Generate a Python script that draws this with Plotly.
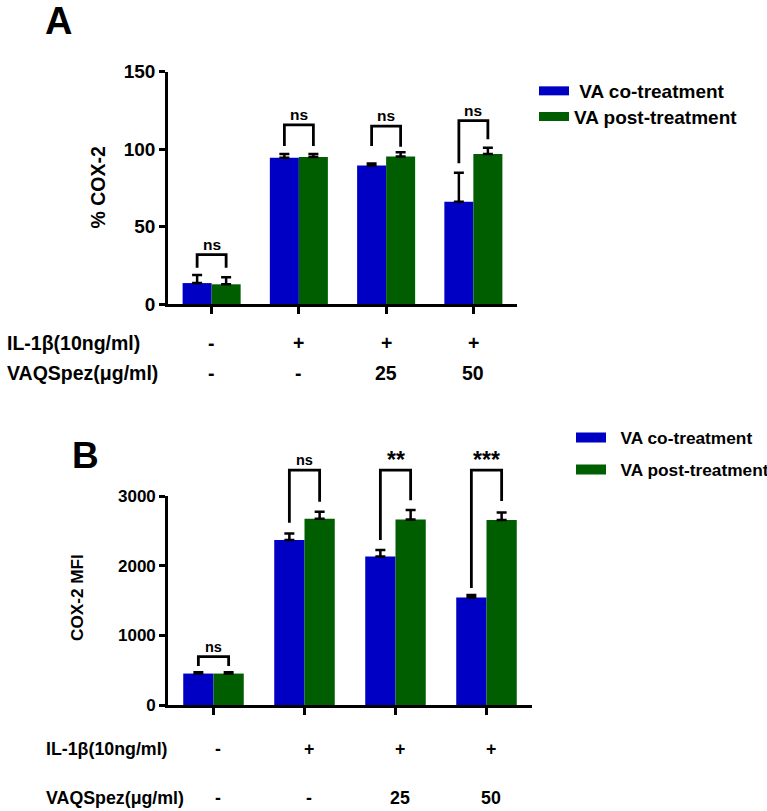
import plotly.graph_objects as go

# ---------------- data ----------------
groups = [0, 1, 2, 3]
il1b_row = ["-", "+", "+", "+"]
vaq_row = ["-", "-", "25", "50"]
series_names = ["VA co-treatment", "VA post-treatment"]

# Panel A: % COX-2
a_co = [13.5, 94.4, 89.3, 66.0]
a_co_err = [5.2, 2.4, 1.4, 18.7]
a_post = [12.7, 94.8, 95.1, 96.8]
a_post_err = [4.5, 2.0, 2.8, 4.0]
a_sig = ["ns", "ns", "ns", "ns"]
a_bracket_top = [31.8, 115.5, 114.8, 118.3]
a_leg_co = [23.4, 102.0, 102.0, 90.8]
a_leg_post = [23.4, 102.0, 101.5, 106.3]
a_ticks = [0, 50, 100, 150]

# Panel B: COX-2 MFI
b_co = [452, 2371, 2136, 1547]
b_co_err = [20, 96, 91, 33]
b_post = [452, 2677, 2668, 2658]
b_post_err = [20, 101, 134, 110]
b_sig = ["ns", "ns", "**", "***"]
b_bracket_top = [694, 3376, 3376, 3376]
b_leg_co = [560, 2619, 2371, 1681]
b_leg_post = [560, 2921, 2945, 2931]
b_ticks = [0, 1000, 2000, 3000]

# ---------------- style ----------------
W, H = 767, 811
BLUE = "#0000C4"
GREEN = "#005E00"
FONT = "Arial, Liberation Sans, sans-serif"
BARGAP = 0.335
half = (1 - BARGAP) / 4  # offset of each bar centre from group centre


def px_x(p):
    return p / W


def px_y(p):
    return 1 - p / H


def bold(s):
    return dict(family=FONT, size=s, color="black", weight="bold")


fig = go.Figure()

# bars
for xa, ya, data in [("x", "y", [(a_co, a_co_err, BLUE, series_names[0]),
                                  (a_post, a_post_err, GREEN, series_names[1])]),
                     ("x2", "y2", [(b_co, b_co_err, BLUE, series_names[0]),
                                    (b_post, b_post_err, GREEN, series_names[1])])]:
    for vals, errs, col, name in data:
        fig.add_trace(go.Bar(x=groups, y=vals, name=name,
                             marker=dict(color=col, line=dict(width=0)),
                             error_y=dict(type="data", symmetric=False, array=errs,
                                          arrayminus=[0] * len(errs), color="black",
                                          thickness=2.5, width=5),
                             xaxis=xa, yaxis=ya, showlegend=False, hoverinfo="skip"))


# significance brackets
def add_brackets(tops, legl, legr, labels, xa, ya, fsize):
    for g, t, l, r, lab in zip(groups, tops, legl, legr, labels):
        xl, xr = g - half, g + half
        fig.add_trace(go.Scatter(x=[xl, xl, xr, xr], y=[l, t, t, r], mode="lines",
                                 line=dict(color="black", width=2.8),
                                 xaxis=xa, yaxis=ya, showlegend=False, hoverinfo="skip"))
        star = lab.startswith("*")
        fig.add_annotation(x=g, y=t, xref=xa, yref=ya, text=lab, showarrow=False,
                           xanchor="center", yanchor="bottom",
                           yshift=-5 if star else 0,
                           font=bold(23 if star else fsize))


add_brackets(a_bracket_top, a_leg_co, a_leg_post, a_sig, "x", "y", 15.5)
add_brackets(b_bracket_top, b_leg_co, b_leg_post, b_sig, "x2", "y3", 14.5)

# legend entries (one legend per entry so each row sits where it does in the figure)
legend_specs = [
    # legend id, label, colour, swatch thickness, font size, left px, top px, axes
    ("legend", "\u00a0VA co-treatment", BLUE, 9, 19, 534, 72, "x", "y"),
    ("legend2", "VA post-treatment", GREEN, 9, 19, 534, 97.7, "x", "y"),
    ("legend3", "\u00a0\u00a0VA co-treatment", BLUE, 11, 17.3, 571, 419.7, "x2", "y2"),
    ("legend4", "\u00a0\u00a0VA post-treatment", GREEN, 11, 17.3, 571, 451.7, "x2", "y2"),
]
legend_layout = {}
for lid, nm, col, lw, fs, lx, ty, xa, ya in legend_specs:
    fig.add_trace(go.Scatter(x=[None], y=[None], mode="lines", name=nm,
                             line=dict(color=col, width=lw), legend=lid,
                             xaxis=xa, yaxis=ya, hoverinfo="skip"))
    legend_layout[lid] = dict(x=px_x(lx), y=px_y(ty), xanchor="left", yanchor="top",
                              font=bold(fs), bgcolor="rgba(0,0,0,0)", borderwidth=0)

# ---------------- axes ----------------
A_X0, A_X1, A_Y0, A_Y1 = 168, 517, 304, 71.5
B_X0, B_X1, B_Y0, B_Y1, B_YT = 168, 532, 705, 496.3, 430

axis_common = dict(showgrid=False, zeroline=False, showline=True, linecolor="black",
                   linewidth=2.6, ticks="outside", tickcolor="black", tickwidth=2.6)

fig.update_layout(
    xaxis=dict(domain=[px_x(A_X0), px_x(A_X1)], range=[-0.5, 3.5], anchor="y",
               tickvals=groups, showticklabels=False, ticklen=7, **axis_common),
    yaxis=dict(domain=[px_y(A_Y0), px_y(A_Y1)], range=[0, a_ticks[-1]], anchor="x",
               tickvals=a_ticks, ticklen=6, tickfont=bold(19), **axis_common),
    xaxis2=dict(domain=[px_x(B_X0), px_x(B_X1)], range=[-0.5, 3.5], anchor="y2",
                tickvals=groups, showticklabels=False, ticklen=7, **axis_common),
    yaxis2=dict(domain=[px_y(B_Y0), px_y(B_Y1)], range=[0, b_ticks[-1]], anchor="x2",
                tickvals=b_ticks, ticklen=6, tickfont=bold(17), **axis_common),
    yaxis3=dict(domain=[px_y(B_Y0), px_y(B_YT)],
                range=[0, b_ticks[-1] * (B_Y0 - B_YT) / (B_Y0 - B_Y1)],
                anchor="x2", visible=False, showgrid=False, zeroline=False),
    barmode="group", bargap=BARGAP, bargroupgap=0,
    width=W, height=H, margin=dict(l=0, r=0, t=0, b=0, autoexpand=False),
    plot_bgcolor="rgba(0,0,0,0)", paper_bgcolor="white",
    **legend_layout,
)

# panel letters and axis titles
for txt, xp, yp, fs, ang in [("A", 58.5, 21, 38, 0), ("B", 85, 455.5, 37, 0),
                             ("% COX-2", 97, 187.5, 19.5, -90),
                             ("COX-2 MFI", 77, 598, 17.2, -90)]:
    fig.add_annotation(x=px_x(xp), y=px_y(yp), xref="paper", yref="paper", text=txt,
                       textangle=ang, showarrow=False, xanchor="center", yanchor="middle",
                       font=bold(fs))

# treatment table rows
for xa, lx, rows, fs, xs in [("x", 5, [(342.5, "IL-1\u03b2(10ng/ml)", il1b_row),
                                       (373, "VAQSpez(\u03bcg/ml)", vaq_row)], 19.5, 0),
                             ("x2", 44, [(749, "IL-1\u03b2(10ng/ml)", il1b_row),
                                         (798, "VAQSpez(\u03bcg/ml)", vaq_row)], 17.8, 4)]:
    for ypix, label, vals in rows:
        fig.add_annotation(x=px_x(lx), y=px_y(ypix), xref="paper", yref="paper", text=label,
                           xanchor="left", yanchor="middle", showarrow=False, font=bold(fs))
        for g, v in zip(groups, vals):
            fig.add_annotation(x=g, y=px_y(ypix), xref=xa, yref="paper", text=v,
                               xshift=xs, xanchor="center", yanchor="middle",
                               showarrow=False, font=bold(fs))

fig.write_html("out.html", config={"displayModeBar": False},
               post_script="document.body.style.margin='0';document.body.style.overflow='hidden';")
